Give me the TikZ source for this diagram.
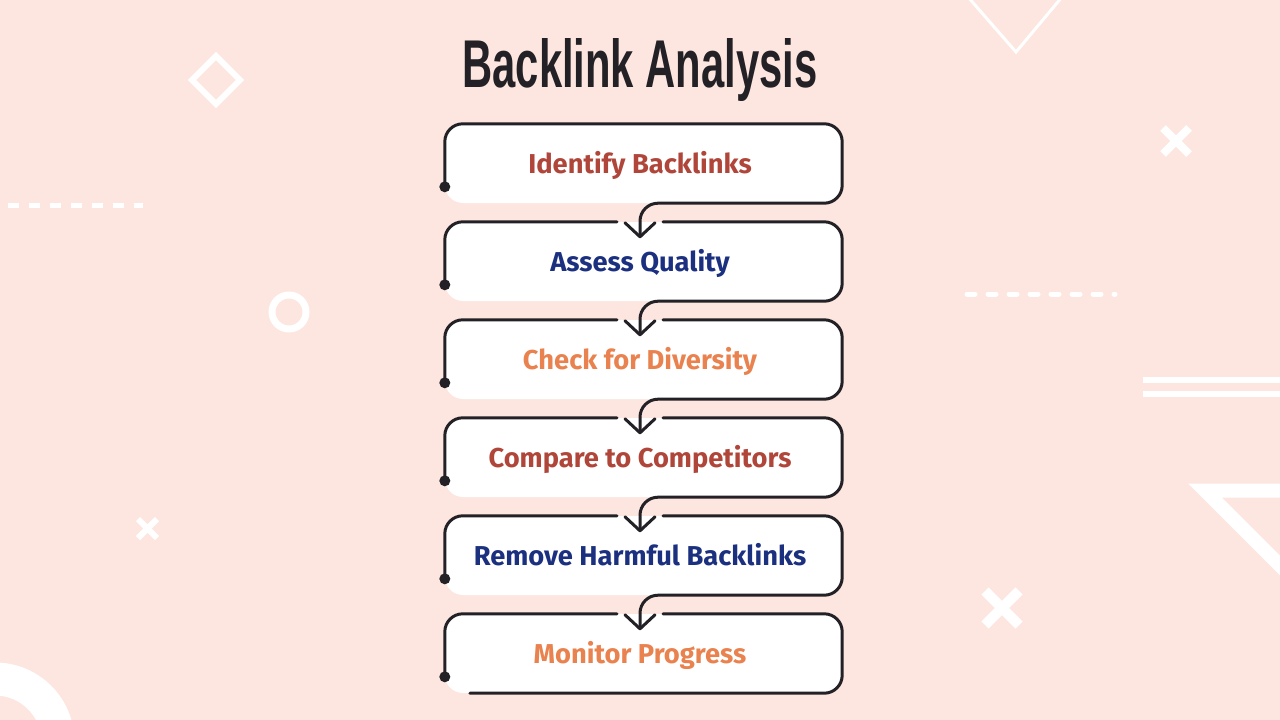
\documentclass[tikz,border=0pt]{standalone}
\usepackage{fontspec}
\setmainfont{Fira Sans}
\newfontfamily\titlefont{Liberation Sans}
\usetikzlibrary{calc}
\definecolor{bg}{RGB}{253,230,223}
\definecolor{ink}{RGB}{35,33,38}
\definecolor{cred}{RGB}{176,70,58}
\definecolor{cblue}{RGB}{28,48,128}
\definecolor{corange}{RGB}{233,130,78}
\tikzset{
  deco/.style={draw=white, line width=#1},
  stepbox/.style={fill=white, rounded corners=18pt, minimum width=397pt, minimum height=79pt,
    inner sep=0pt, text height=19pt, text depth=0pt,
    font=\fontsize{27.3}{27.3}\selectfont\bfseries,
    execute at begin node={\kern-7pt}},
  outline/.style={draw=ink, line width=3pt, line cap=round, line join=round, rounded corners=18pt},
}
\begin{document}
\begin{tikzpicture}[x=1pt,y=-1pt]
\useasboundingbox (0,0) rectangle (1280,720);
\clip (0,0) rectangle (1280,720);
\fill[bg] (0,0) rectangle (1280,720);
% decorations
\draw[deco=6, line join=miter] (216,56) -- (240,80) -- (216,104) -- (192,80) -- cycle;
\draw[deco=5, dash pattern=on 11pt off 10pt] (8,205) -- (143,205);
\draw[deco=7] (289,312) circle (17);
\draw[deco=3] (968,-3) -- (1016,52) -- (1062,-3);
\draw[deco=8] (1163,128) -- (1189,154) (1189,128) -- (1163,154);
\draw[deco=5, line cap=round, dash pattern=on 8pt off 13pt] (967,294) -- (1115,294);
\draw[deco=6] (1143,380) -- (1290,380) (1143,394) -- (1290,394);
\draw[deco=6] (138,519) -- (157,538) (157,519) -- (138,538);
\draw[deco=10] (985,591) -- (1019,625) (1019,591) -- (985,625);
\draw[deco=14, line join=miter] (1295,490.5) -- (1205,490.5) -- (1300,585.5);
\draw[deco=33] (-5,742) circle (63);
% title
\node[anchor=base, text=ink] (title) at (640,87)
  {\resizebox{355pt}{49pt}{\titlefont\bfseries Backlink Analysis}};
% boxes
\foreach \i/\t/\c in {1/Identify Backlinks/cred, 2/Assess Quality/cblue,
  3/Check for Diversity/corange, 4/Compare to Competitors/cred,
  5/Remove Harmful Backlinks/cblue, 6/Monitor Progress/corange}{
  \node[stepbox, text=\c] (b\i) at (643.5,{163.5+98*(\i-1)}) {\t};
  \coordinate (d\i) at ($(b\i.north west)+(0,63)$);
  \coordinate (gL\i) at ($(b\i.north)+(-26.5,0)$);
  \coordinate (gR\i) at ($(b\i.north)+(19.5,0)$);
  \coordinate (t\i) at ($(b\i.north)+(-3.5,15)$);
}
% outlines and connectors
\draw[outline] (d1) -- (b1.north west) -- (b1.north east) -- (b1.south east)
  -- (b1.south -| t2) -- (t2);
\foreach \i/\j in {2/3,3/4,4/5,5/6}{
  \draw[outline] (gR\i) -- (b\i.north east) -- (b\i.south east) -- (b\i.south -| t\j) -- (t\j);
}
\foreach \i in {2,...,6}{
  \draw[outline] (gL\i) -- (b\i.north west) -- (d\i);
  \draw[draw=ink, line width=3pt, line cap=round, line join=round]
    ($(t\i)+(-15,-14)$) -- (t\i) -- ($(t\i)+(15,-14)$);
}
\draw[outline] (gR6) -- (b6.north east) -- (b6.south east) -- ($(b6.south west)+(25,0)$);
\foreach \i in {1,...,6}{
  \fill[ink] (d\i) circle (5.5);
}
\end{tikzpicture}
\end{document}
